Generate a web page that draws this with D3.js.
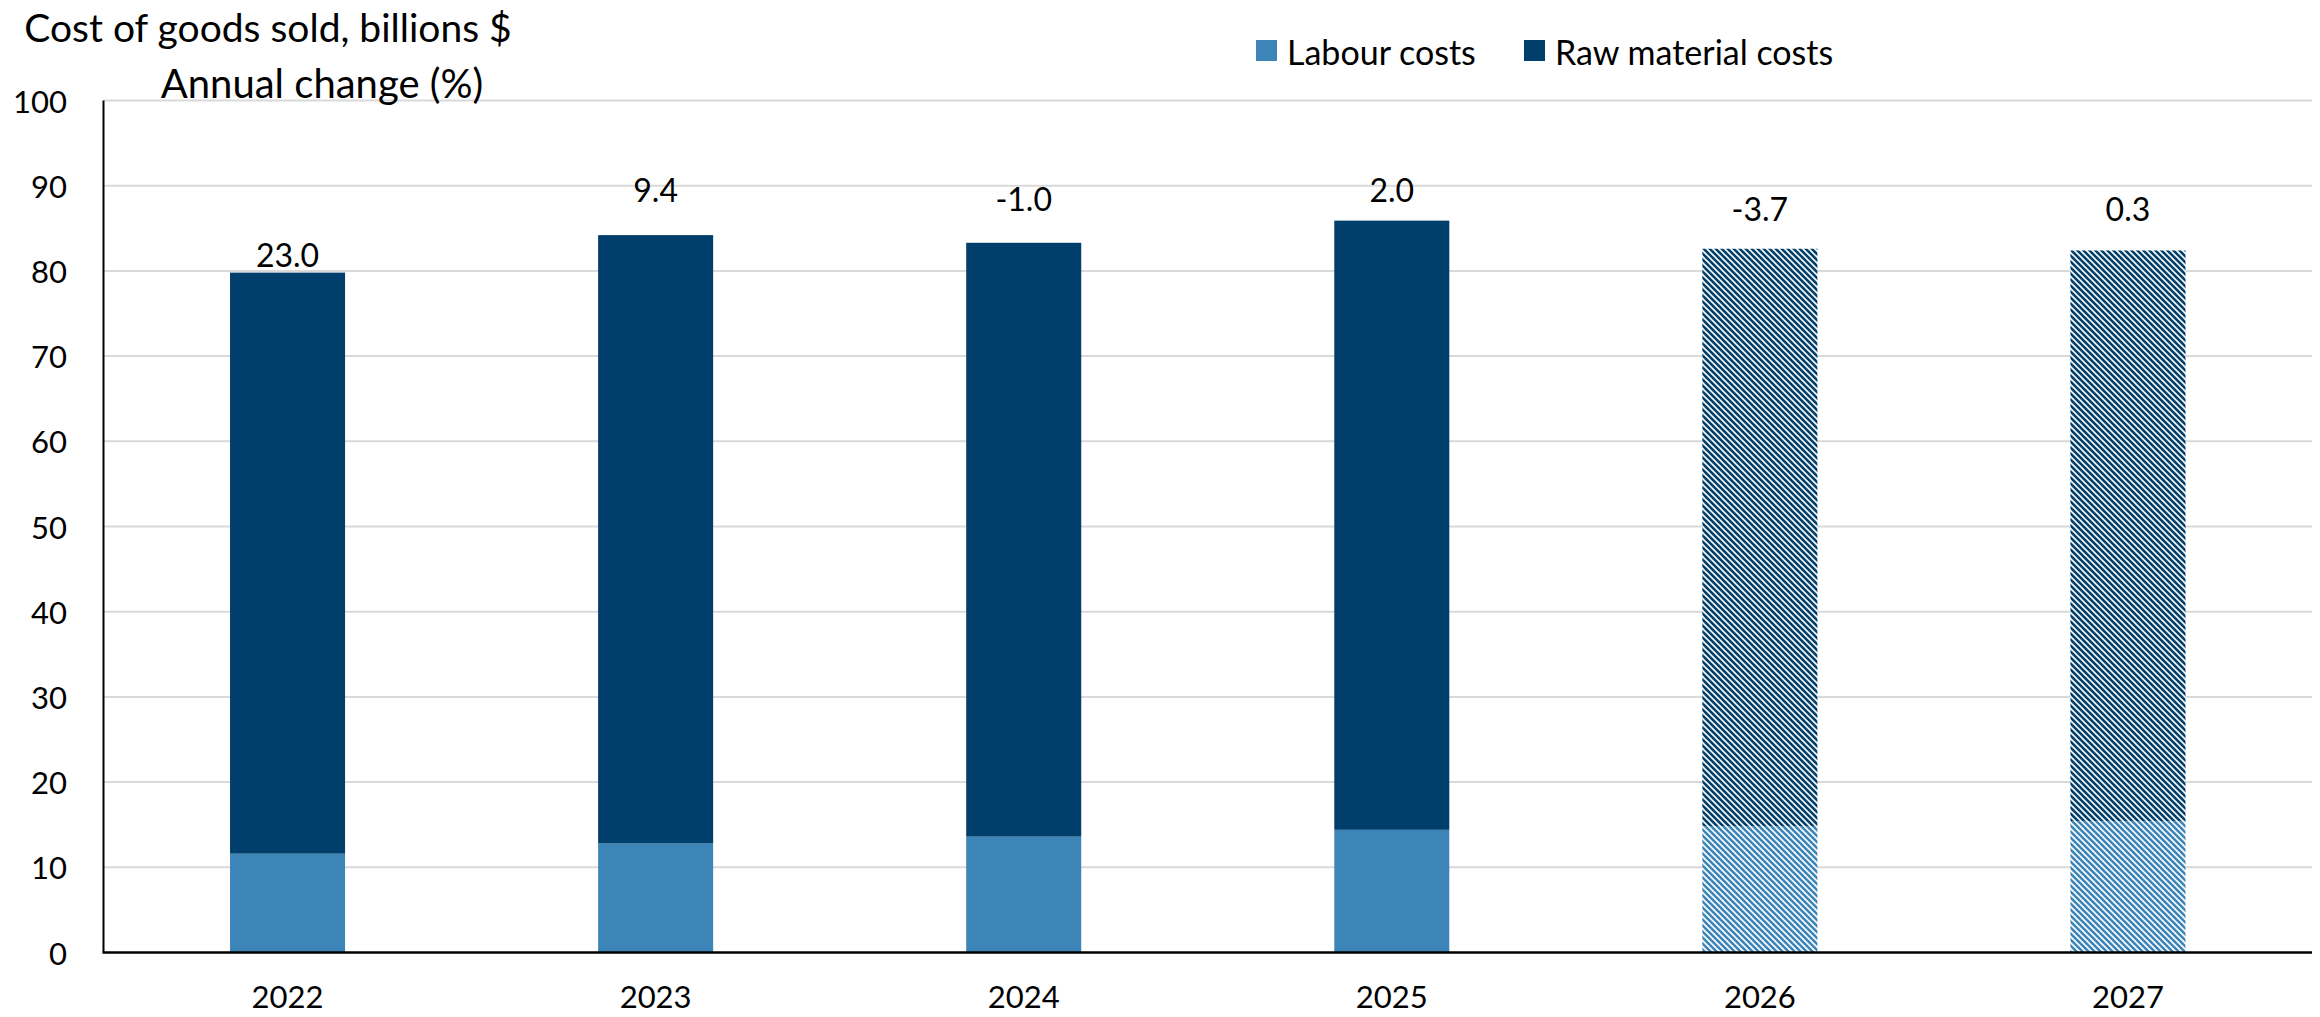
<!DOCTYPE html>
<html><head><meta charset="utf-8">
<script src="https://cdn.jsdelivr.net/npm/d3@7"></script>
<style>html,body{margin:0;padding:0;background:#fff;}svg{display:block;font-family:Lato,"Noto Sans",sans-serif;}</style>
</head><body>
<svg id="c" width="2320" height="1017"></svg>
<script>
const years = ["2022","2023","2024","2025","2026","2027"];
const labour = [11.6, 12.8, 13.6, 14.4, 14.8, 15.4];
const rawMaterial = [68.2, 71.4, 69.7, 71.5, 67.8, 67.0];
const changeLabels = ["23.0","9.4","-1.0","2.0","-3.7","0.3"];
const labelAt = [81.9, 89.6, 88.5, 89.6, 87.3, 87.3];
const forecast = [false,false,false,false,true,true];
const yTicks = [0,10,20,30,40,50,60,70,80,90,100];
const seriesNames = ["Labour costs","Raw material costs"];

const colLab = "#3d85b8", colRaw = "#003f6b";
const svg = d3.select("#c");
const L = 103.5, R = 2312, T = 100.5, B = 952.5;
const x = d3.scaleBand().domain(years).range([L,R]).paddingInner(0.6875).paddingOuter(0.34375);
const y = d3.scaleLinear().domain([0,100]).range([B,T]);

const defs = svg.append("defs");
function hatch(id,color){
  const s = 6;
  const p = defs.append("pattern").attr("id",id).attr("patternUnits","userSpaceOnUse").attr("width",s).attr("height",s);
  p.append("rect").attr("width",s).attr("height",s).attr("fill",color);
  p.append("path").attr("d",`M0,0 L${s},${s} M${-s/2},${s/2} L${s/2},${s*1.5} M${s/2},${-s/2} L${s*1.5},${s/2}`)
    .attr("stroke","#fff").attr("stroke-width",1.6);
}
hatch("hLab",colLab); hatch("hRaw",colRaw);

// gridlines
svg.append("g").selectAll("line").data(yTicks.filter(d=>d>0)).join("line")
  .attr("x1",L).attr("x2",R).attr("y1",d=>y(d)).attr("y2",d=>y(d))
  .attr("stroke","#d9d9d9").attr("stroke-width",2);

// y tick labels
svg.append("g").selectAll("text").data(yTicks).join("text")
  .attr("x",67).attr("y",d=>y(d)).attr("text-anchor","end").attr("dominant-baseline","central")
  .attr("font-size",31).attr("fill","#000").text(d=>d);

// bars
const g = svg.append("g");
years.forEach((yr,i)=>{
  g.append("rect").attr("x",x(yr)).attr("width",x.bandwidth())
    .attr("y",y(labour[i])).attr("height",y(0)-y(labour[i]))
    .attr("fill",forecast[i]?"url(#hLab)":colLab);
  g.append("rect").attr("x",x(yr)).attr("width",x.bandwidth())
    .attr("y",y(labour[i]+rawMaterial[i])).attr("height",y(labour[i])-y(labour[i]+rawMaterial[i]))
    .attr("fill",forecast[i]?"url(#hRaw)":colRaw);
});

// change labels
svg.append("g").selectAll("text").data(years).join("text")
  .attr("x",d=>x(d)+x.bandwidth()/2).attr("y",(d,i)=>y(labelAt[i]))
  .attr("text-anchor","middle").attr("dominant-baseline","central")
  .attr("font-size",32).text((d,i)=>changeLabels[i]);

// axes lines
svg.append("line").attr("x1",L).attr("x2",L).attr("y1",T).attr("y2",B).attr("stroke","#000").attr("stroke-width",2);
svg.append("line").attr("x1",L-1).attr("x2",R).attr("y1",B).attr("y2",B).attr("stroke","#000").attr("stroke-width",2.5);

// x labels
svg.append("g").selectAll("text").data(years).join("text")
  .attr("x",d=>x(d)+x.bandwidth()/2).attr("y",996)
  .attr("text-anchor","middle").attr("dominant-baseline","central")
  .attr("font-size",31).text(d=>d);

// titles
svg.append("text").attr("x",268).attr("y",27).attr("text-anchor","middle").attr("dominant-baseline","central").attr("font-size",39).text("Cost of goods sold, billions $");
svg.append("text").attr("x",322).attr("y",83).attr("text-anchor","middle").attr("dominant-baseline","central").attr("font-size",40).text("Annual change (%)");

// legend
const leg = [{n:seriesNames[0],c:colLab,x:1256},{n:seriesNames[1],c:colRaw,x:1524}];
leg.forEach(d=>{
  svg.append("rect").attr("x",d.x).attr("y",40).attr("width",21).attr("height",21).attr("fill",d.c);
  svg.append("text").attr("x",d.x+31).attr("y",51).attr("dominant-baseline","central").attr("font-size",34).text(d.n);
});
</script>
</body></html>
